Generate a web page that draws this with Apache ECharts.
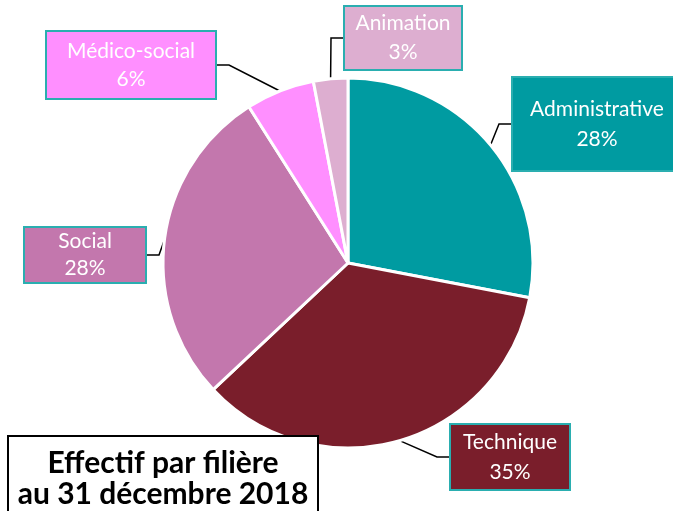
<!DOCTYPE html>
<html><head><meta charset="utf-8">
<script src="https://cdn.jsdelivr.net/npm/echarts@6/dist/echarts.min.js"></script>
<style>html,body{margin:0;padding:0;background:#fff}#c{width:673px;height:511px}</style>
</head><body><div id="c"></div>
<script>
var categories = ['Administrative', 'Technique', 'Social', 'Médico-social', 'Animation'];
var values = [28, 35, 28, 6, 3];
var colors = ['#009BA1', '#7A1E2B', '#C377AD', '#FF8FFF', '#DDAED0'];
var titleLines = ['Effectif par filière', 'au 31 décembre 2018'];

// label box layout (centre x, centre y, width, lineHeight, vertical padding)
var labelBoxes = [
  {x: 597, y: 124, w: 168, lh: 30, pv: 16},
  {x: 510, y: 457, w: 118, lh: 30, pv: 2},
  {x: 85,  y: 255, w: 120, lh: 27, pv: 0},
  {x: 131, y: 65,  w: 168, lh: 28, pv: 5},
  {x: 403, y: 38,  w: 116, lh: 29, pv: 2}
];

var chart = echarts.init(document.getElementById('c'), null, {renderer: 'canvas'});
var data = categories.map(function (n, i) {
  var b = labelBoxes[i];
  return {
    name: n, value: values[i],
    itemStyle: {color: colors[i]},
    label: {backgroundColor: colors[i], width: b.w, lineHeight: b.lh, padding: [b.pv, 0]}
  };
});
chart.setOption({
  animation: false,
  title: {
    text: titleLines.join('\n'),
    left: 155, top: 436, textAlign: 'center',
    padding: [12, 8, 8, 8],
    borderColor: '#000', borderWidth: 2, backgroundColor: '#fff',
    textStyle: {fontFamily: 'Lato', fontWeight: 'bold', fontSize: 30, lineHeight: 31, color: '#000', width: 294, align: 'center'}
  },
  series: [{
    type: 'pie',
    center: [348, 263],
    radius: 185,
    startAngle: 90,
    clockwise: true,
    data: data,
    itemStyle: {borderColor: '#fff', borderWidth: 3},
    label: {
      show: true,
      formatter: '{b}\n{d}%',
      color: '#fff',
      fontFamily: 'Lato',
      fontSize: 21,
      align: 'center',
      borderColor: '#2AAEB0',
      borderWidth: 2
    },
    labelLine: {show: true, lineStyle: {color: '#000', width: 1.5}, length: 15, length2: 12},
    labelLayout: function (p) {
      var b = labelBoxes[p.dataIndex];
      return {x: b.x, y: b.y, align: 'center', verticalAlign: 'middle', hideOverlap: false};
    }
  }]
});
</script></body></html>
